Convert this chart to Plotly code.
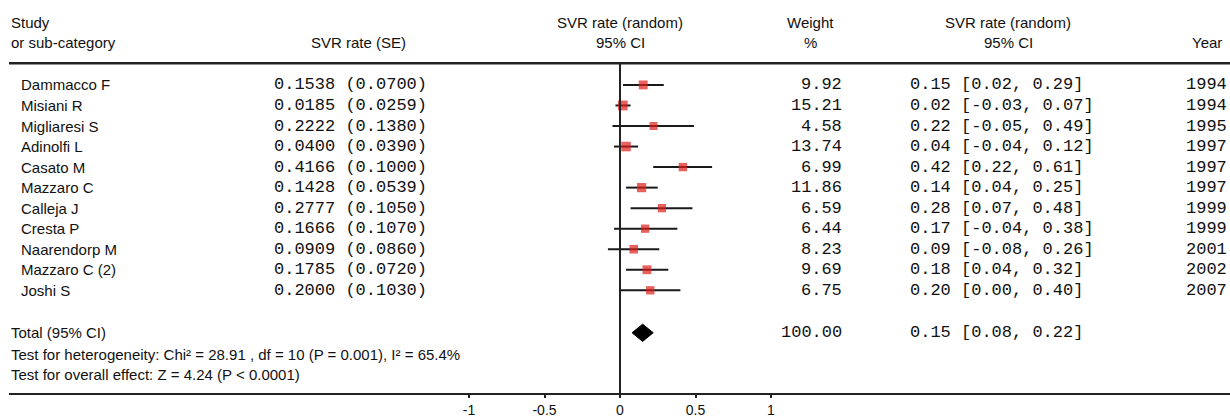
import plotly.graph_objects as go

# ---------------- data ----------------
studies = ["Dammacco F", "Misiani R", "Migliaresi S", "Adinolfi L", "Casato M",
           "Mazzaro C", "Calleja J", "Cresta P", "Naarendorp M", "Mazzaro C (2)", "Joshi S"]
svr_rate = [0.1538, 0.0185, 0.2222, 0.0400, 0.4166, 0.1428, 0.2777, 0.1666, 0.0909, 0.1785, 0.2000]
svr_se = [0.0700, 0.0259, 0.1380, 0.0390, 0.1000, 0.0539, 0.1050, 0.1070, 0.0860, 0.0720, 0.1030]
weights = [9.92, 15.21, 4.58, 13.74, 6.99, 11.86, 6.59, 6.44, 8.23, 9.69, 6.75]
ci_est = [0.15, 0.02, 0.22, 0.04, 0.42, 0.14, 0.28, 0.17, 0.09, 0.18, 0.20]
ci_lo = [0.02, -0.03, -0.05, -0.04, 0.22, 0.04, 0.07, -0.04, -0.08, 0.04, 0.00]
ci_hi = [0.29, 0.07, 0.49, 0.12, 0.61, 0.25, 0.48, 0.38, 0.26, 0.32, 0.40]
years = [1994, 1994, 1995, 1997, 1997, 1997, 1999, 1999, 2001, 2002, 2007]

total_label = "Total (95% CI)"
total_weight = 100.00
total_est, total_lo, total_hi = 0.15, 0.08, 0.22
heterogeneity_text = "Test for heterogeneity: Chi\u00b2 = 28.91 , df = 10 (P = 0.001), I\u00b2 = 65.4%"
overall_text = "Test for overall effect: Z = 4.24 (P < 0.0001)"

x_tick_vals = [-1, -0.5, 0, 0.5, 1]
x_tick_text = ["-1", "-0.5", "0", "0.5", "1"]

# ---------------- layout helpers ----------------
W, H = 1230, 418
AXIS_PX = 398            # y of the bottom axis line
ML, MR, MT = 9, 0, 0
MB = H - AXIS_PX
ZERO_PX = 620.0          # x of the zero line
PX_PER_UNIT = 151.0
ROW0_PX = 86.0           # y of first study row
ROW_H = 20.8


def px2x(px):
    return (px - ZERO_PX) / PX_PER_UNIT


def py2row(py):
    return (py - ROW0_PX) / ROW_H


SANS = "Liberation Sans, Arial, sans-serif"
MONO = "Liberation Mono, Courier New, monospace"
TXT = "#111111"
sans_size = 15
mono_size = 17

n = len(studies)
rows = list(range(n))
row_total = py2row(337)
row_het = py2row(359)
row_overall = py2row(379)
row_h1 = py2row(23)
row_h2 = py2row(43)
row_hline = py2row(64)
row_axis = py2row(AXIS_PX)

fig = go.Figure()

# CI lines
lx, ly = [], []
for i in rows:
    lx += [ci_lo[i], ci_hi[i], None]
    ly += [i, i, None]
fig.add_trace(go.Scatter(x=lx, y=ly, mode="lines", line=dict(color="#1a1a1a", width=2),
                         hoverinfo="skip", showlegend=False))

# study squares
fig.add_trace(go.Scatter(x=svr_rate, y=rows, mode="markers",
                         marker=dict(symbol="square", color="#e01e1a",
                                     size=[7.2 + 0.17 * w for w in weights], line=dict(width=0)),
                         showlegend=False))

# total diamond
dh = 0.42
fig.add_trace(go.Scatter(x=[total_lo, total_est, total_hi, total_est, total_lo],
                         y=[row_total, row_total - dh, row_total, row_total + dh, row_total],
                         mode="lines", fill="toself", fillcolor="#000000",
                         line=dict(color="#000000", width=1), showlegend=False))

ann = []


def add_text(text, px, row, anchor, font, size):
    ann.append(dict(text=text, x=px2x(px), y=row, xref="x", yref="y", xanchor=anchor,
                    yanchor="middle", showarrow=False, font=dict(family=font, size=size, color=TXT)))


# headers
add_text("Study", 9, row_h1, "left", SANS, sans_size)
add_text("or sub-category", 9, row_h2, "left", SANS, sans_size)
add_text("SVR rate (SE)", 358, row_h2, "center", SANS, sans_size)
add_text("SVR rate (random)", 620, row_h1, "center", SANS, sans_size)
add_text("95% CI", 620, row_h2, "center", SANS, sans_size)
add_text("Weight", 810, row_h1, "center", SANS, sans_size)
add_text("%", 810, row_h2, "center", SANS, sans_size)
add_text("SVR rate (random)", 1008, row_h1, "center", SANS, sans_size)
add_text("95% CI", 1008, row_h2, "center", SANS, sans_size)
add_text("Year", 1207, row_h2, "center", SANS, sans_size)

for i in rows:
    add_text(studies[i], 19, i, "left", SANS, sans_size)
    add_text(f"{svr_rate[i]:.4f} ({svr_se[i]:.4f})", 272, i, "left", MONO, mono_size)
    add_text(f"{weights[i]:.2f}", 844, i, "right", MONO, mono_size)
    add_text(f"{ci_est[i]:.2f} [{ci_lo[i]:.2f}, {ci_hi[i]:.2f}]", 908, i, "left", MONO, mono_size)
    add_text(str(years[i]), 1229, i, "right", MONO, mono_size)

add_text(total_label, 9, row_total, "left", SANS, sans_size)
add_text(f"{total_weight:.2f}", 844, row_total, "right", MONO, mono_size)
add_text(f"{total_est:.2f} [{total_lo:.2f}, {total_hi:.2f}]", 908, row_total, "left", MONO, mono_size)
add_text(heterogeneity_text, 9, row_het, "left", SANS, sans_size)
add_text(overall_text, 9, row_overall, "left", SANS, sans_size)

shapes = [
    # header rule
    dict(type="line", xref="paper", yref="y", x0=0, x1=1, y0=row_hline, y1=row_hline,
         line=dict(color="#222222", width=2.5)),
    # zero line
    dict(type="line", xref="x", yref="y", x0=0, x1=0, y0=row_hline, y1=row_axis,
         line=dict(color="#222222", width=2)),
]

xr = [px2x(ML), px2x(W - MR)]
yr = [row_axis, py2row(MT)]

fig.update_layout(
    width=W, height=H, margin=dict(l=ML, r=MR, t=MT, b=MB, pad=0),
    paper_bgcolor="white", plot_bgcolor="white",
    annotations=ann, shapes=shapes, showlegend=False,
    xaxis=dict(range=xr, tickvals=x_tick_vals, ticktext=x_tick_text, showgrid=False,
               zeroline=False, showline=True, linecolor="#222222", linewidth=2,
               ticks="outside", ticklen=3, tickwidth=2, tickcolor="#222222",
               tickfont=dict(family=SANS, size=14, color=TXT), fixedrange=True),
    yaxis=dict(range=yr, visible=False, fixedrange=True),
)

fig.write_html(
    "out.html",
    config={"displayModeBar": False},
    post_script="document.body.style.margin='0';document.body.style.overflow='hidden';"
                "document.documentElement.style.overflow='hidden';",
)
